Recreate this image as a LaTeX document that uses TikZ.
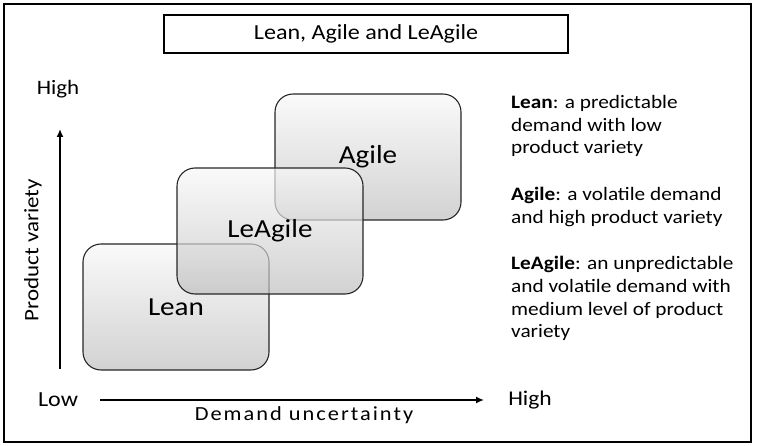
\documentclass[tikz,border=0pt]{standalone}
\usepackage{fontspec}
\setmainfont[FakeStretch=1.12]{Carlito}
\usetikzlibrary{positioning,arrows.meta}

\begin{document}
\begin{tikzpicture}[x=1pt,y=-1pt,on grid,
  box/.style={draw=black!85,line width=1.1pt,rounded corners=18pt,
    minimum width=186pt,minimum height=126pt,
    top color=gray!6,bottom color=gray!50,fill opacity=0.7,text opacity=1,
    font=\fontsize{26}{30}\selectfont},
  lbl/.style={font=\fontsize{20.5}{24}\selectfont},
  note/.style={font=\fontsize{19}{22.8}\selectfont,align=left,anchor=north west,inner sep=0pt},
  axis/.style={line width=1.5pt,-{Latex[length=8pt,width=7pt]}}]
 \useasboundingbox (0,0) rectangle (757,446);
 \draw[line width=1.2pt] (4,4) rectangle (751,442);
 \node[draw,line width=1.4pt,minimum width=404pt,minimum height=38pt,font=\fontsize{21.5}{25}\selectfont] (title) at (366,34) {Lean, Agile and LeAgile};
 % the three overlapping regions
 \node[box] (lean) at (176,307) {Lean};
 \node[box] (agile) [above right=150pt and 192pt of lean] {Agile};
 \node[box] (leagile) [above right=76pt and 94pt of lean] {LeAgile};
 % axes
 \coordinate (y0) at (60,369);
 \coordinate (y1) at (60,129);
 \coordinate (x0) at (100,400);
 \coordinate (x1) at (484,400);
 \draw[axis] (y0) -- (y1);
 \draw[axis] (x0) -- (x1);
 \node[lbl] (yhigh) at (58,89) {High};
 \node[lbl,rotate=90] (yname) at (33,250) {Product variety};
 \node[font=\fontsize{21.5}{25}\selectfont] (xlow) at (58,400) {Low};
 \node[font=\fontsize{21}{25}\selectfont] (xhigh) at (530,400) {High};
 \node[font=\fontsize{20}{24}\selectfont\addfontfeature{LetterSpace=10}] (xname) at (304,415) {Demand uncertainty};
 % definitions on the right
 \node[note] (leannote) at (511,95) {\textbf{Lean}: a predictable\\demand with low\\product variety};
 \node[note] (agilenote) at (511,187) {\textbf{Agile}: a volatile demand\\and high product variety};
 \node[note] (leagilenote) at (511,256) {\textbf{LeAgile}: an unpredictable\\and volatile demand with\\medium level of product\\variety};
\end{tikzpicture}
\end{document}
